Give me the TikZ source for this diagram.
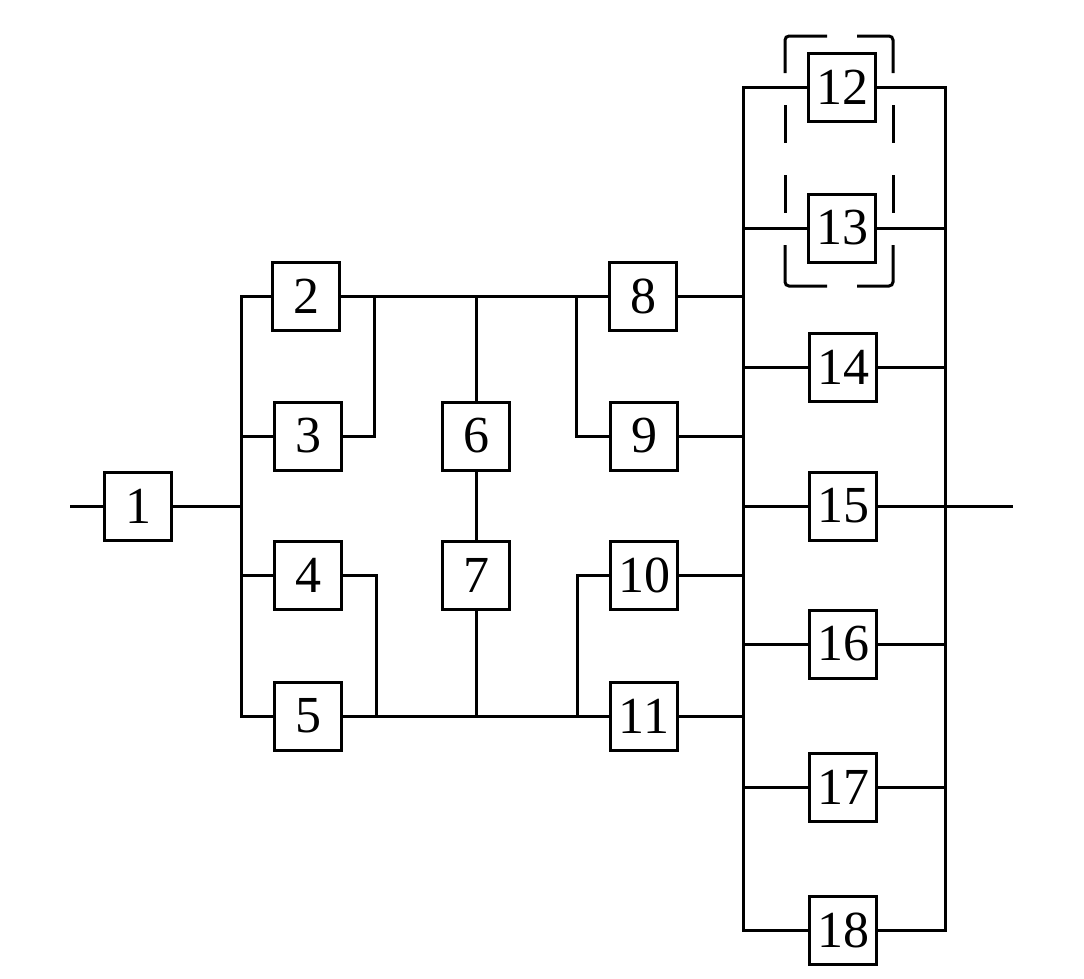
\documentclass[tikz,border=0pt]{standalone}
\usepackage{fontspec}
\setmainfont{Liberation Serif}
\begin{document}
\begin{tikzpicture}[x=1pt,y=-1pt,
  blk/.style={draw,line width=3pt,minimum width=67pt,minimum height=68pt,inner sep=0pt,
    font=\fontsize{52}{60}\selectfont},
  wire/.style={line width=3pt},
  grp/.style={line width=3pt,rounded corners=4pt}]
\useasboundingbox (0,0) rectangle (1084,978);
% blocks
\node[blk] (b1) at (138,506) {1};
\node[blk] (b2) at (306,296) {2};
\node[blk] (b3) at (308,436) {3};
\node[blk] (b4) at (308,575) {4};
\node[blk] (b5) at (308,716) {5};
\node[blk] (b6) at (476,436) {6};
\node[blk] (b7) at (476,575) {7};
\node[blk] (b8) at (643,296) {8};
\node[blk] (b9) at (644,436) {9};
\node[blk] (b10) at (644,575) {10};
\node[blk] (b11) at (644,716) {11};
\node[blk] (b12) at (842,87) {12};
\node[blk] (b13) at (842,228) {13};
\node[blk] (b14) at (843,367) {14};
\node[blk] (b15) at (843,506) {15};
\node[blk] (b16) at (843,644) {16};
\node[blk] (b17) at (843,787) {17};
\node[blk] (b18) at (843,930) {18};
% junction coordinates
\coordinate (in) at (70,506);
\coordinate (lb) at (241,506);
\coordinate (t1) at (374,296);
\coordinate (t2) at (576,296);
\coordinate (u1) at (376,716);
\coordinate (u2) at (577,716);
\coordinate (rl) at (743,506);
\coordinate (rr) at (945,506);
\coordinate (out) at (1013,506);
% input side
\draw[wire] (in) -- (b1.west);
\draw[wire] (b1.east) -- (lb);
\draw[wire] (b2.west) -| (lb) |- (b5.west);
\draw[wire] (b3.west) -- (b3.west -| lb);
\draw[wire] (b4.west) -- (b4.west -| lb);
% middle
\draw[wire] (b2.east) -- (b8.west);
\draw[wire] (b3.east) -| (t1);
\draw[wire] (b9.west) -| (t2);
\draw[wire] (b6.north) -- (b6.north |- b2.east);
\draw[wire] (b6.south) -- (b7.north);
\draw[wire] (b5.east) -- (b11.west);
\draw[wire] (b4.east) -| (u1);
\draw[wire] (b10.west) -| (u2);
\draw[wire] (b7.south) -- (b7.south |- b5.east);
% to right group
\draw[wire] (b8.east) -- (b8.east -| rl);
\draw[wire] (b9.east) -- (b9.east -| rl);
\draw[wire] (b10.east) -- (b10.east -| rl);
\draw[wire] (b11.east) -- (b11.east -| rl);
% right group
\draw[wire] (b12.west) -| (rl) |- (b18.west);
\draw[wire] (b12.east) -| (rr) |- (b18.east);
\foreach \k in {13,14,16,17}{
  \draw[wire] (b\k.west) -- (b\k.west -| rl);
  \draw[wire] (b\k.east) -- (b\k.east -| rr);
}
\draw[wire] (b15.west) -- (b15.west -| rl);
\draw[wire] (b15.east) -- (out);
% dashed group outline
\draw[grp] (827,36) -- (785,36) -- (785,73);
\draw[grp] (785,105) -- (785,143);
\draw[grp] (785,175) -- (785,213);
\draw[grp] (785,245) -- (785,286) -- (827,286);
\draw[grp] (857,36) -- (893,36) -- (893,73);
\draw[grp] (893,105) -- (893,143);
\draw[grp] (893,175) -- (893,213);
\draw[grp] (893,245) -- (893,286) -- (857,286);
\end{tikzpicture}
\end{document}
